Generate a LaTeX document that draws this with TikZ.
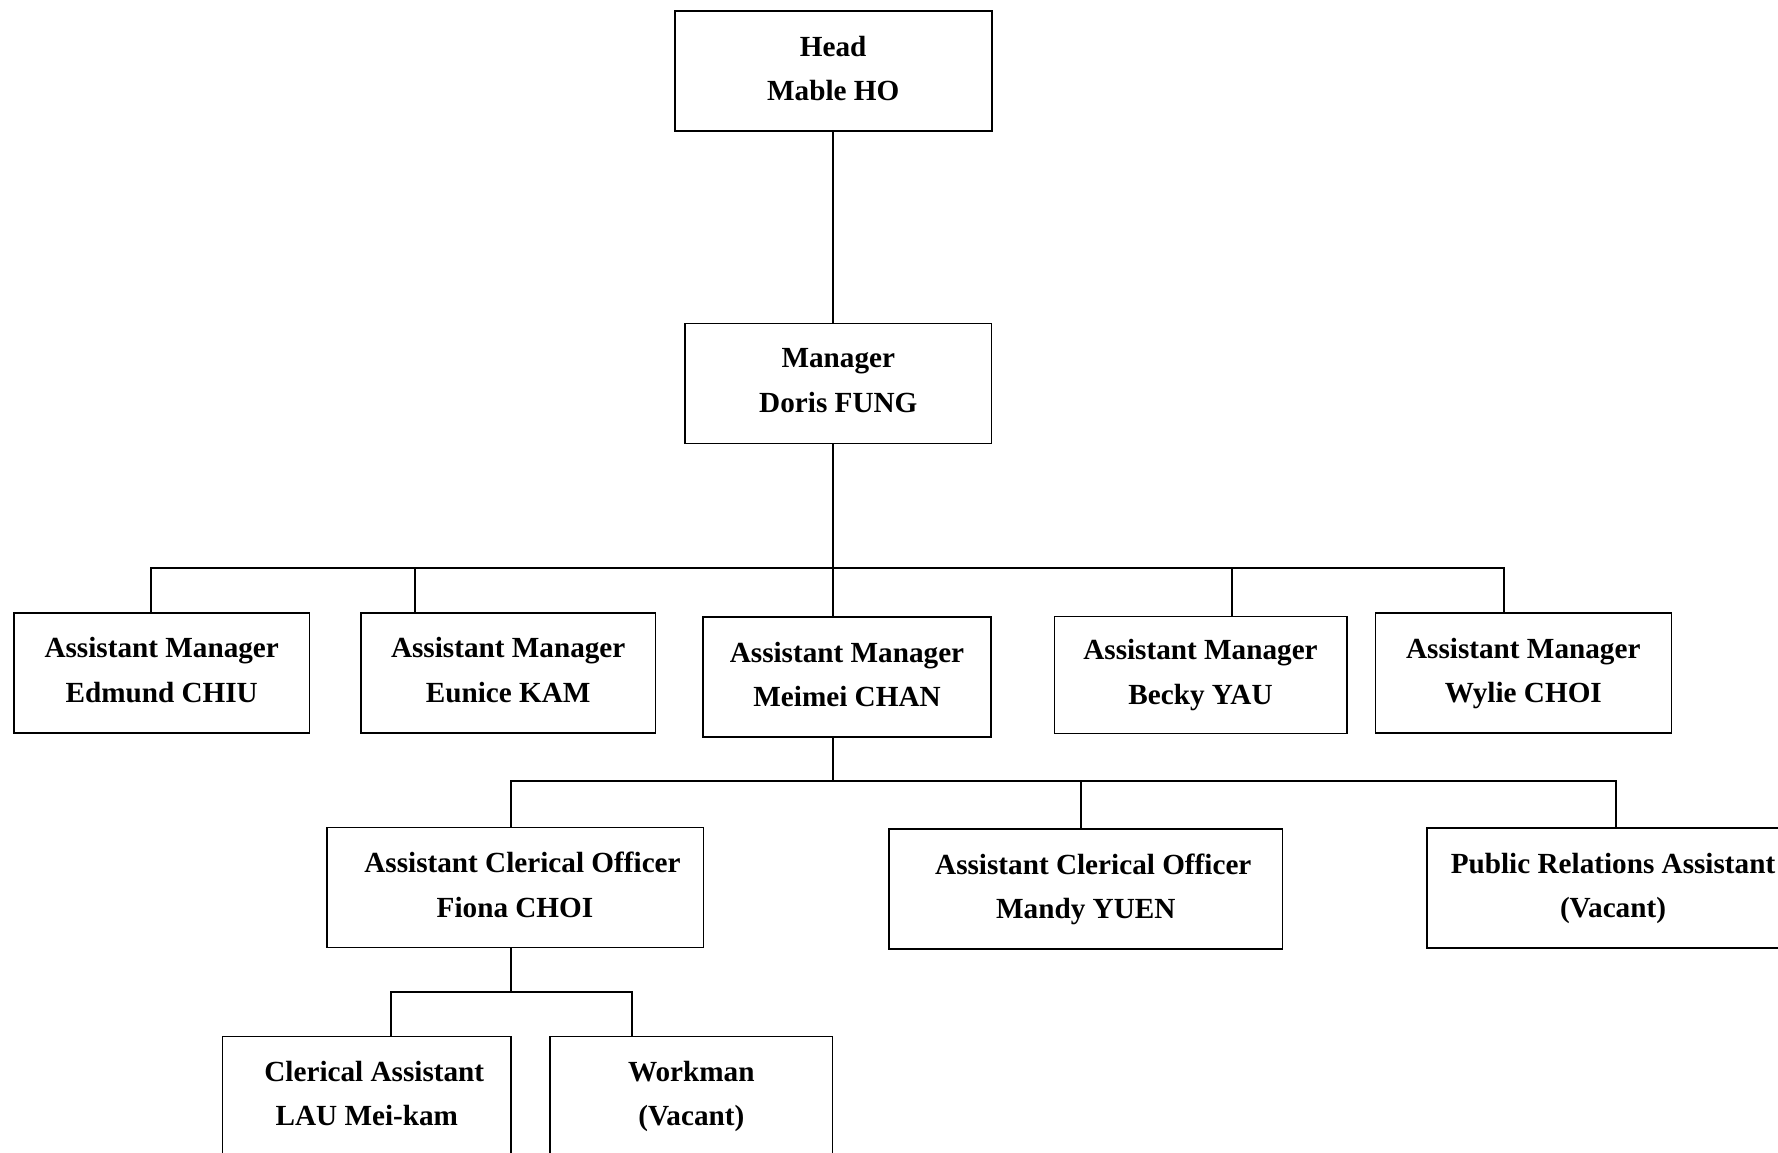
\documentclass[tikz,border=0pt]{standalone}
\usepackage{fontspec}
\setmainfont{Liberation Serif}

\begin{document}
\begin{tikzpicture}[x=0.5pt,y=-0.5pt,line width=0.8pt,
	box/.style={draw,align=center,inner sep=0pt,minimum height=60pt,text depth=2.8pt,
		font=\fontsize{14.6}{22.2}\selectfont\bfseries}]
\useasboundingbox (0,0) rectangle (1778,1152);

\node[box,minimum width=158.5pt] (head) at (833.2,71.2) {Head\\Mable HO};
\node[box,minimum width=153.3pt] (manager) at (838.3,383.3) {Manager\\Doris FUNG};

\node[box,minimum width=147.7pt] (edmund) at (161.7,672.7) {Assistant Manager\\Edmund CHIU};
\node[box,minimum width=147.3pt] (eunice) at (508.2,672.7) {Assistant Manager\\Eunice KAM};
\node[box,minimum width=144pt] (meimei) at (847,677) {Assistant Manager\\Meimei CHAN};
\node[box,minimum width=146.2pt,minimum height=58.5pt] (becky) at (1200.5,674.8) {Assistant Manager\\Becky YAU};
\node[box,minimum width=148pt] (wylie) at (1523.3,673) {Assistant Manager\\Wylie CHOI};

\node[box,minimum width=188.3pt] (fiona) at (515,887.5) {\hspace*{7.5pt}Assistant Clerical Officer\\Fiona CHOI};
\node[box,minimum width=196.8pt] (mandy) at (1085.8,889.2) {\hspace*{7.5pt}Assistant Clerical Officer\\Mandy YUEN};
\node[box,minimum width=186.3pt] (pr) at (1613,888.2) {Public Relations Assistant\\(Vacant)};

\node[box,minimum width=144.2pt] (clerical) at (366.8,1096.3) {\hspace*{7.5pt}Clerical Assistant\\LAU Mei-kam};
\node[box,minimum width=141.3pt] (workman) at (691.3,1096.3) {Workman\\(Vacant)};

\coordinate (top1) at (833,568);
\coordinate (top2) at (833,781);
\coordinate (top3) at (511,992);

\draw (head.south) -- (head.south |- manager.north);

\draw (top1 |- manager.south) -- (top1);
\draw (edmund.north -| 151,0) -- (151,568) -- (1504,568) -- (wylie.north -| 1504,0);
\foreach \x/\n in {415/eunice,833/meimei,1231.7/becky}
	\draw (\x,568) -- (\x,0 |- \n.north);

\draw (top2 |- meimei.south) -- (top2);
\draw (fiona.north -| 511,0) -- (511,781) -- (1615.7,781) -- (pr.north -| 1615.7,0);
\draw (1081,781) -- (1081,0 |- mandy.north);

\draw (top3 |- fiona.south) -- (top3);
\draw (clerical.north -| 391,0) -- (391,992) -- (631.7,992) -- (workman.north -| 631.7,0);

\end{tikzpicture}
\end{document}
